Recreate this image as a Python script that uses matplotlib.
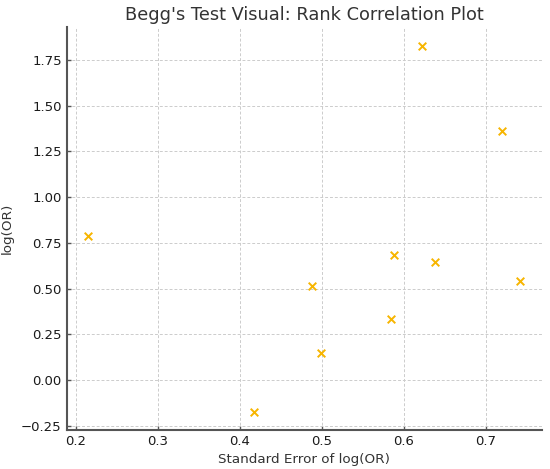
import numpy as np
import matplotlib
matplotlib.use("Agg")
import matplotlib.pyplot as plt

plt.rcParams['font.family'] = 'DejaVu Sans'

# standard error and log odds ratio per study
se = [0.215, 0.417, 0.488, 0.4995, 0.585, 0.588, 0.622, 0.638, 0.720, 0.742]
log_or = [0.785, -0.173, 0.516, 0.146, 0.336, 0.681, 1.828, 0.644, 1.361, 0.540]

fig = plt.figure(figsize=(5.5, 4.69), dpi=100)
ax = fig.add_axes([0.121, 0.083, 0.864, 0.859])

ax.scatter(se, log_or, marker='x', color='#F7B500', s=30, linewidths=1.4, zorder=3)

ax.set_title("Begg's Test Visual: Rank Correlation Plot", fontsize=12.8, color='#333333', pad=5)
ax.set_xlabel("Standard Error of log(OR)", fontsize=9.7, color='#333333', labelpad=4)
ax.set_ylabel("log(OR)", fontsize=9.7, color='#333333', labelpad=5)

ax.set_xticks([0.2, 0.3, 0.4, 0.5, 0.6, 0.7])
ax.set_yticks([-0.25, 0.0, 0.25, 0.5, 0.75, 1.0, 1.25, 1.5, 1.75])
ax.tick_params(direction='in', length=3, width=1, colors='#555555', labelcolor='#1a1a1a', labelsize=9.5)

ax.grid(True, linestyle='--', linewidth=0.7, color='#cccccc', dashes=(3, 2))
ax.set_axisbelow(True)

for side in ['top', 'right']:
    ax.spines[side].set_visible(False)
for side in ['left', 'bottom']:
    ax.spines[side].set_color('#555555')
    ax.spines[side].set_linewidth(1.5)

fig.savefig("out.png", dpi=100)
